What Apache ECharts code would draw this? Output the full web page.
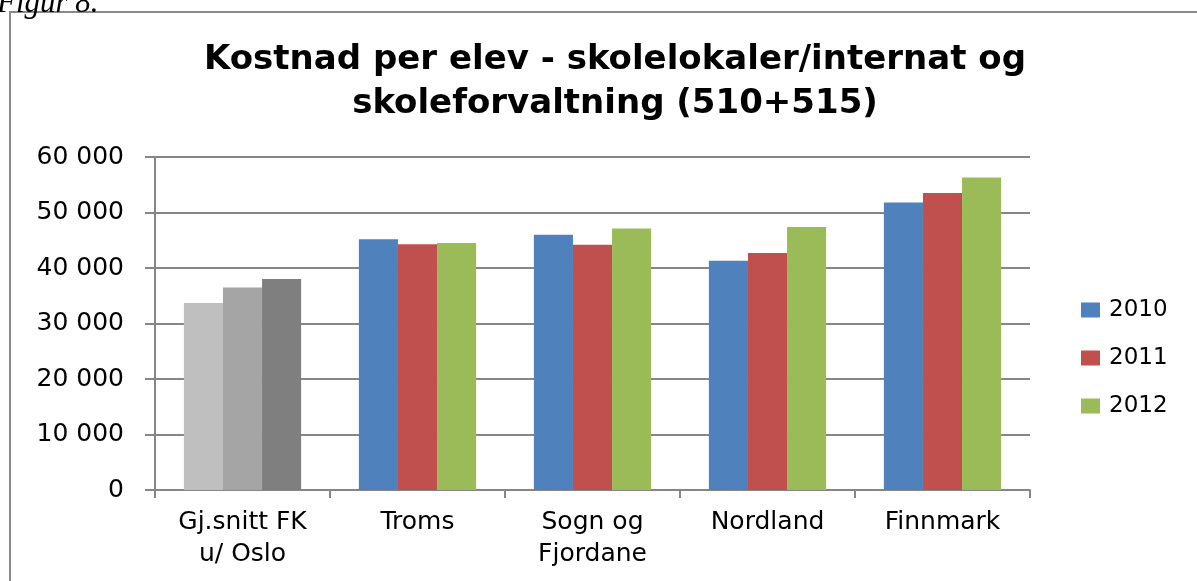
<!DOCTYPE html>
<html lang="no">
<head>
<meta charset="UTF-8">
<title>Kostnad per elev</title>
<script src="https://cdn.jsdelivr.net/npm/echarts@6/dist/echarts.min.js"></script>
<style>
  html, body { margin: 0; padding: 0; background: #fff; }
  #main { width: 1197px; height: 581px; }
</style>
</head>
<body>
<div id="main"></div>
<script>
// data
var categories = ['Gj.snitt FK\nu/ Oslo', 'Troms', 'Sogn og\nFjordane', 'Nordland', 'Finnmark'];
var years = ['2010', '2011', '2012'];
var v2010 = [33700, 45200, 46000, 41300, 51800];
var v2011 = [36500, 44300, 44200, 42700, 53500];
var v2012 = [38000, 44500, 47100, 47400, 56300];
var yearColors = ['#4F81BD', '#C0504D', '#9BBB59'];
var avgColors = ['#BFBFBF', '#A5A5A5', '#7F7F7F']; // first group is grey

var chart = echarts.init(document.getElementById('main'));
var font = '"DejaVu Sans", "Open Sans", sans-serif';

function makeSeries(name, values, idx) {
  return {
    name: name,
    type: 'bar',
    barGap: '0%',
    barCategoryGap: '33%',
    itemStyle: { color: yearColors[idx] },
    data: values.map(function (v, i) {
      return i === 0 ? { value: v, itemStyle: { color: avgColors[idx] } } : v;
    })
  };
}

chart.setOption({
  animation: false,
  textStyle: { fontFamily: font },
  title: {
    text: 'Kostnad per elev - skolelokaler/internat og\nskoleforvaltning (510+515)',
    left: 610,
    textAlign: 'center',
    top: 33,
    textStyle: { fontSize: 34, fontWeight: 'bold', color: '#000', lineHeight: 44, fontFamily: font }
  },
  graphic: [
    { type: 'rect', shape: { x: 10, y: 12, width: 1200, height: 600 },
      style: { fill: 'none', stroke: '#8a8a8a', lineWidth: 2 } },
    { type: 'text', x: -3, y: -12,
      style: { text: 'Figur 8.', font: 'italic 31px "Liberation Serif", serif', fill: '#000' } }
  ],
  legend: {
    orient: 'vertical',
    left: 1076,
    top: 293,
    itemWidth: 19,
    itemHeight: 15,
    itemGap: 24,
    icon: 'rect',
    textStyle: { fontSize: 23, color: '#000', lineHeight: 24, padding: [0, 0, 0, 4], fontFamily: font },
    data: years
  },
  grid: { left: 155, right: 167, top: 157, bottom: 91 },
  xAxis: {
    type: 'category',
    data: categories,
    axisLine: { lineStyle: { color: '#868686', width: 2 } },
    axisTick: { show: true, length: 8, lineStyle: { color: '#868686', width: 2 } },
    axisLabel: { fontSize: 25, color: '#000', margin: 16, lineHeight: 32, interval: 0 }
  },
  yAxis: {
    type: 'value',
    min: 0,
    max: 60000,
    interval: 10000,
    axisLine: { show: true, lineStyle: { color: '#868686', width: 2 } },
    axisTick: { show: true, length: 10, inside: false, lineStyle: { color: '#868686', width: 2 } },
    splitLine: { lineStyle: { color: '#868686', width: 2 } },
    axisLabel: {
      fontSize: 25, color: '#000', margin: 31,
      formatter: function (v) { return String(v).replace(/\B(?=(\d{3})+(?!\d))/g, ' '); }
    }
  },
  series: [
    makeSeries(years[0], v2010, 0),
    makeSeries(years[1], v2011, 1),
    makeSeries(years[2], v2012, 2)
  ]
});
</script>
</body>
</html>
